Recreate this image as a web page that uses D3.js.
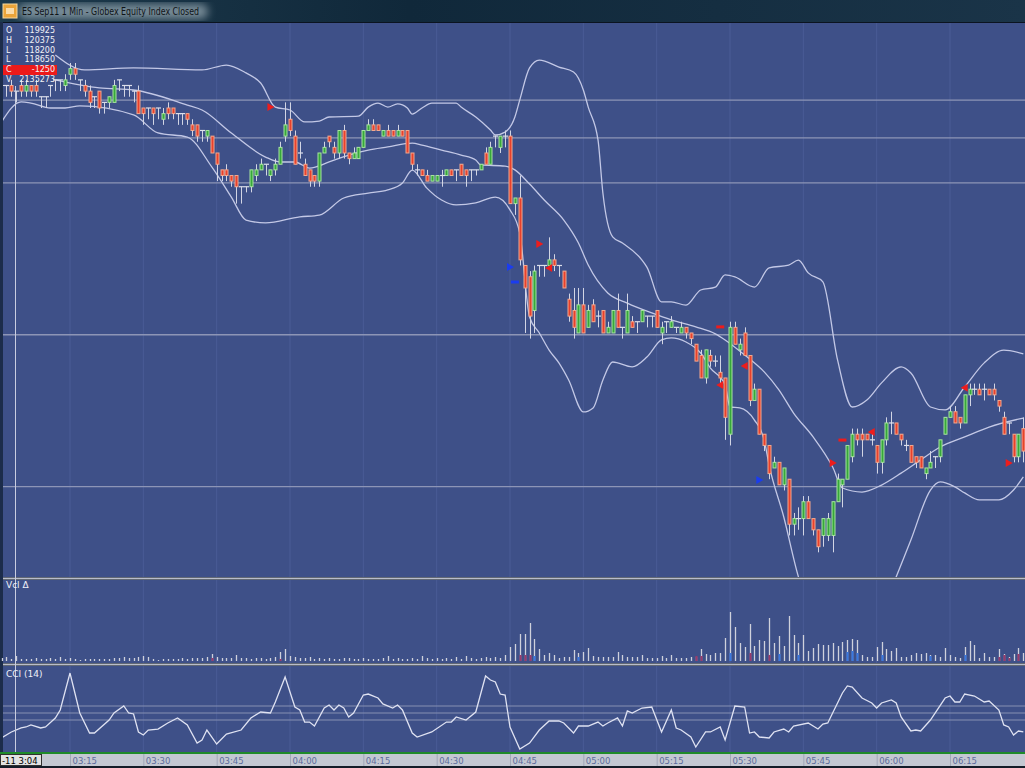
<!DOCTYPE html>
<html><head><meta charset="utf-8">
<script src="https://cdn.jsdelivr.net/npm/d3@7"></script>
<style>
html,body{margin:0;padding:0;background:#000;overflow:hidden}
svg{display:block}
text{font-family:"DejaVu Sans",Verdana,sans-serif}
</style></head><body>
<svg id="c" width="1025" height="768"></svg>
<script>
// ---------- DATA ----------
const titleText = "ES Sep11 1 Min - Globex Equity Index Closed";
const infoLabels = ["O","H","L","L","C","V"];
const infoValues = ["119925","120375","118200","118650","-1250","2135273"];
const cursorLabel = "-11 3:04";
const cursorBar = 3;
const panelLabels = ["Vcl \u0394","CCI (14)"];

const openP = [1202.75,1202.75,1202.75,1202.5,1202.75,1202.5,1202.75,1202.75,1202.25,1202.25,
1202.75,1203,1203,1202.75,1203.25,1203.5,1203,1202.75,1202.5,1202.25,
1202.5,1202,1202,1202,1203,1202.75,1202.75,1202.5,1202.5,1201.75,
1201.75,1201.75,1201.75,1201.25,1201.75,1201.75,1201.5,1201.5,1201.5,1201,
1201,1200.75,1200.5,1200.5,1199.75,1199,1199,1198.75,1198.75,1198.25,
1198.25,1198.25,1198.75,1199,1199.25,1198.75,1199,1199.25,1200.5,1201.25,
1200.5,1199.75,1199.25,1199,1198.75,1198.5,1199.75,1200.5,1200,1199.75,
1200.75,1199.75,1199.5,1199.5,1200,1200.75,1201,1201,1200.5,1200.75,
1200.75,1200.5,1200.75,1200.75,1199.75,1199,1199,1198.75,1198.5,1198.5,
1198.75,1198.75,1199,1199,1199.25,1199,1199,1199,1199,1199.75,
1199.25,1200.5,1200,1200.5,1200.5,1197.5,1197.75,1194.75,1194.25,1192.75,
1194.75,1194.75,1194.75,1195,1194.75,1194.5,1193.25,1192.75,1191.75,1193,
1192,1193,1192.5,1192.75,1191.75,1191.75,1192.75,1192,1191.75,1192.25,
1192.25,1192.25,1192.5,1192.5,1192.75,1191.75,1192.25,1192,1192,1191.75,
1192,1191.75,1191.25,1190.75,1189.75,1190.75,1190.5,1190,1189.75,1187.25,
1192,1191,1191.75,1190.75,1188.75,1189.25,1187.25,1186.75,1185.75,1186,
1185,1185.25,1183.25,1183.5,1183.5,1184.25,1183.5,1183,1182.75,1182.75,
1182.75,1184.25,1185,1185.25,1186.25,1187.25,1187.25,1187.25,1187,1186.75,
1186,1187,1187.75,1187.75,1187.25,1186.75,1186.75,1186.25,1186.25,1185.5,
1185.75,1186.25,1186.25,1187.25,1188,1188.25,1188,1187.75,1189,1189.25,
1189.25,1189.25,1189.25,1189.25,1188.75,1188,1187.75,1187.25,1186.25,1187.5];
const highP = [1202.75,1202.75,1203,1202.5,1203,1203,1202.75,1203,1202.25,1202.25,
1202.75,1203,1203,1203.25,1203.75,1203.75,1203,1203,1202.75,1202.25,
1202.5,1202,1202.25,1203,1203,1202.75,1202.75,1202.5,1202.75,1201.75,
1201.75,1201.75,1201.75,1201.75,1202,1201.75,1201.5,1201.5,1201.5,1201.25,
1201,1200.75,1200.75,1200.5,1199.75,1199,1199.25,1198.75,1198.75,1198.25,
1198.25,1199,1199.25,1199.5,1199.25,1199,1199.5,1200.25,1202,1202,
1200.75,1200.25,1199.5,1199,1198.75,1199.75,1200.25,1200.5,1200.25,1200.75,
1201,1199.75,1200,1200,1200.75,1201.25,1201.25,1201,1200.75,1201,
1200.75,1201,1200.75,1200.75,1199.75,1199.25,1199,1199,1198.75,1198.75,
1199,1199,1199,1199,1199.25,1199,1199,1199,1199.25,1200,
1200.25,1200.5,1200.5,1200.75,1200.75,1197.75,1198.75,1194.75,1194.5,1194.75,
1194.75,1194.75,1196,1195.25,1194.75,1194.5,1193.5,1193.75,1193.75,1193.75,
1193,1193.25,1192.75,1192.75,1192.25,1192.75,1193.5,1192,1193.5,1192.5,
1192.25,1192.75,1192.5,1192.5,1192.75,1192.25,1192.25,1192.5,1192,1192.25,
1192,1191.75,1191.25,1191,1191,1191,1190.75,1190.75,1189.75,1192.25,
1192.25,1191.5,1192,1190.75,1189.5,1189.25,1187.25,1186.75,1186.25,1186,
1185.75,1185.25,1183.75,1184,1184.5,1184.5,1183.5,1183,1183.5,1183.75,
1184.25,1185.5,1185.25,1186.75,1187.5,1187.5,1187.5,1187.25,1187.25,1186.75,
1187,1188,1188.25,1187.75,1187.25,1187,1186.75,1186.25,1186.25,1185.75,
1186.5,1186.25,1187,1188,1188.5,1188.5,1188,1189,1189.5,1189.5,
1189.5,1189.5,1189.25,1189.5,1188.75,1188.25,1187.75,1187.25,1187.25,1188];
const lowP = [1202.25,1202.25,1202.25,1202,1202.25,1202.25,1202.25,1202.25,1201.75,1201.75,
1202.25,1202.5,1202.5,1202.5,1203,1203,1202.5,1202.25,1201.75,1201.75,
1201.5,1201.5,1201.75,1202,1202.5,1202.25,1202.25,1202,1201.5,1201,
1201.25,1201,1201.25,1201,1201.25,1201.25,1201,1201,1201,1200.5,
1200.25,1200.25,1200.25,1199.75,1198.5,1198.5,1198.5,1198.25,1197.5,1197.5,
1198,1198,1198.5,1199,1198.75,1198.5,1198.75,1199.25,1200.25,1200.5,
1199.25,1199.5,1198.75,1198.25,1198.25,1198.25,1199.75,1200,1199.5,1199.5,
1199.5,1199.25,1199.5,1199.5,1200,1200.75,1200.75,1200.75,1200.5,1200.5,
1200.5,1200.5,1200.5,1199.75,1199,1198.75,1198.75,1198.5,1198.5,1198.5,
1198.25,1198.75,1198.75,1198.5,1198.75,1198.25,1198.5,1198.75,1199,1199.25,
1199.25,1200,1199.75,1200,1197.5,1197,1194.75,1191.75,1191.5,1191.75,
1194.25,1194.25,1194.75,1194.5,1194.25,1193.75,1192.25,1191.5,1191.75,1191.75,
1192,1192.25,1192,1191.75,1191.75,1191.75,1192,1191.5,1191.75,1192,
1191.75,1192.25,1192,1192,1192,1191.25,1191.75,1192,1191.75,1191.75,
1191.5,1191.25,1190.5,1189.75,1189.5,1190.25,1190.25,1189.5,1187,1186.75,
1191.25,1190.75,1190.75,1188.5,1188.75,1187.25,1186.5,1185.25,1185.75,1185,
1184.75,1182.75,1182.75,1183,1182.75,1183.5,1182.75,1182,1182.25,1182.5,
1182,1184.25,1184,1185.25,1186,1186.75,1186.25,1187,1186.75,1185.5,
1185.5,1186.75,1187.25,1187.25,1186.75,1186.5,1186,1185.75,1185.75,1185.25,
1185.75,1185.75,1186,1187.25,1188,1187.75,1187.5,1187.75,1188.5,1189,
1189,1188.75,1189,1188.75,1188.25,1187.25,1187.25,1186,1186,1186];
const closeP = [1202.75,1202.75,1202.5,1202.5,1202.5,1202.75,1202.5,1202.5,1202.25,1202.25,
1202.75,1203,1203,1203,1203.5,1203.25,1203,1202.5,1202,1202.25,
1201.75,1202,1202.25,1202.75,1203,1202.75,1202.75,1202.5,1201.5,1201.5,
1201.75,1201.5,1201.75,1201.5,1201.5,1201.5,1201.5,1201.5,1201.25,1200.75,
1200.5,1200.75,1200.75,1199.75,1199.25,1198.75,1198.75,1198.5,1198.25,1198.25,
1198.25,1199,1199,1199.25,1199.25,1199,1199.25,1200,1201,1200.75,
1199.25,1199.75,1198.75,1198.5,1198.5,1199.75,1200,1200.25,1199.75,1200.75,
1199.75,1199.5,1199.75,1200,1200.75,1201,1200.75,1200.75,1200.75,1200.5,
1200.5,1200.75,1200.5,1199.75,1199.25,1199,1198.75,1198.5,1198.75,1198.75,
1198.75,1199,1198.75,1199,1198.75,1198.75,1199,1199,1199.25,1199.25,
1200,1200.5,1200.5,1200.5,1197.5,1197.75,1195,1193.75,1192.5,1194.5,
1194.75,1194.75,1195,1194.75,1194.75,1193.75,1192.5,1192,1193,1191.75,
1192.75,1192.25,1192.5,1191.75,1192,1192.75,1192,1192,1192.75,1192,
1192.25,1192.75,1192.5,1192.5,1192,1192,1192.25,1192.25,1192,1192,
1191.75,1191.5,1190.5,1189.75,1191,1190.5,1190.5,1189.75,1188,1192,
1191.25,1191.25,1190.75,1188.75,1189.25,1187.25,1186.75,1185.5,1186,1185,
1185.75,1183.25,1183.5,1183.5,1184.25,1183.5,1183,1182.25,1183.5,1183.5,
1184.25,1185.25,1185.25,1186.75,1187.25,1187,1187,1187,1187,1186,
1187,1187.75,1187.75,1187.25,1187,1186.75,1186,1186,1185.75,1185.75,
1186,1186.25,1187,1188,1188.25,1187.75,1187.75,1189,1189.25,1189.25,
1189,1189.25,1189,1189,1188.5,1187.25,1187.75,1186.25,1187.25,1186.5];

const volume = [900,1200,600,1500,600,600,600,900,600,600,
900,600,1200,600,900,600,300,600,600,600,
600,600,600,900,900,1200,900,900,1200,1500,
1200,600,300,600,600,600,600,900,600,900,
900,900,1200,2100,1200,900,900,900,1800,900,
900,600,900,900,600,900,1200,2700,3600,1500,
1200,900,900,1200,600,900,600,900,600,600,
900,900,600,600,900,600,600,600,900,1500,
600,900,600,600,900,600,1500,900,600,900,
600,900,600,1200,600,1500,900,600,900,1200,
900,1200,900,1800,4200,5100,8100,8100,11400,6600,
3600,1800,2400,1800,900,1200,1200,3300,2400,2700,
3900,1500,1200,1200,1200,1200,2700,1800,1200,1200,
1200,1800,900,900,900,1500,900,1800,900,900,
900,1200,1200,3600,2100,1800,2400,2400,6900,14700,
10200,5400,4200,11100,4500,6300,6000,12900,5400,7500,
4500,13500,7800,5400,7800,3000,3900,5100,4800,4800,
5400,4500,5700,6300,6600,6300,1800,1200,1200,4200,
5700,3600,3000,3900,1200,1200,1800,2400,2100,2400,
1800,1800,1200,3900,1800,1200,900,4200,6000,4800,
900,2400,1200,1200,3600,2100,1200,2100,3900,2400];
const deltaIdx = [43,57,106,107,108,109,118,142,143,149,153,157,159,163,173,174,175,180,190,197,204,205,206,208];
const deltaVal = [-900,-600,-1800,-1800,-1800,1500,1200,-1500,-1500,2400,-2400,-1800,2100,1800,2700,3000,2400,1800,1500,1800,-1200,-1800,-900,-2100];

const upperBand = [[11,1204.11],[17,1203.44],[27,1203.53],[41,1203.44],[46,1203.66],[50,1203.31],[53,1202.86],[56,1201.79],[59,1201.66],[62,1201.13],[65,1201.17],[67,1201.35],[73,1201.39],[75,1201.79],[77,1201.97],[79,1201.79],[81,1201.93],[83,1201.75],[84,1201.48],[86,1201.75],[88,1201.97],[93,1201.97],[94,1201.79],[97,1201.35],[100,1200.77],[101,1200.55],[103,1200.68],[105,1201.35],[106,1202.11],[108,1203.53],[110,1203.88],[114,1203.57],[117,1203.35],[119,1202.55],[120,1201.79],[122,1200.33],[123,1197.97],[125,1196.02],[127,1195.75],[131,1194.99],[132,1194.68],[135,1193.13],[137,1193.13],[140,1192.99],[143,1193.66],[146,1193.79],[148,1194.33],[150,1194.24],[154,1193.79],[157,1194.64],[161,1194.77],[163,1194.99],[165,1194.42],[168,1194.02],[171,1190.55],[174,1188.46],[177,1188.77],[180,1189.53],[184,1190.24],[186,1189.97],[190,1188.46],[193,1188.33],[197,1189.35],[201,1190.42],[205,1190.99],[209,1190.82]];
const middleBand = [[11,1203.0],[20,1202.64],[27,1202.55],[38,1201.88],[41,1201.66],[47,1200.64],[54,1199.57],[57,1199.35],[60,1199.35],[63,1199.08],[67,1199.35],[71,1199.66],[75,1199.88],[79,1200.02],[84,1200.19],[86,1200.1],[90,1199.88],[94,1199.66],[97,1199.44],[98,1199.22],[103,1199.17],[105,1199.0],[108,1198.37],[111,1197.66],[115,1196.77],[118,1195.75],[120,1194.77],[124,1193.53],[128,1193.08],[133,1192.64],[137,1192.33],[142,1192.02],[146,1191.71],[148,1191.44],[152,1190.77],[156,1190.02],[159,1189.22],[162,1188.19],[166,1187.13],[170,1185.79],[172,1184.86],[176,1184.68],[180,1184.99],[184,1185.52],[188,1186.11],[192,1186.68],[197,1187.13],[202,1187.57],[209,1187.97]];
const lowerBand = [[0,1201.13],[4,1202.02],[6,1201.97],[10,1201.75],[13,1201.75],[16,1201.84],[27,1201.44],[32,1200.64],[38,1200.46],[43,1199.13],[47,1197.79],[50,1196.77],[54,1196.64],[61,1196.91],[65,1196.99],[70,1197.75],[75,1197.97],[79,1198.11],[82,1198.42],[84,1198.99],[87,1198.19],[90,1197.66],[93,1197.44],[97,1197.53],[101,1197.79],[104,1197.22],[106,1196.19],[108,1192.46],[110,1191.75],[112,1190.99],[114,1190.42],[116,1189.66],[119,1188.24],[121,1188.42],[123,1189.66],[125,1190.46],[129,1190.24],[132,1190.68],[135,1191.44],[137,1191.53],[140,1191.35],[143,1190.86],[145,1190.19],[148,1189.44],[149,1188.46],[151,1188.42],[154,1187.88],[156,1186.99],[157,1185.88],[160,1183.57],[163,1180.91],[167,1178.77],[174,1178.11],[180,1179.22],[183,1180.91],[186,1182.55],[190,1184.77],[192,1185.13],[195,1184.91],[197,1184.64],[200,1184.33],[204,1184.33],[207,1184.77],[209,1185.35]];
const refLevels = [1202.1,1200.42,1198.42,1191.67,1184.92];

const cciIdx = [0,2,4,5,6,8,9,11,12,14,15,16,18,19,22,23,25,26,27,28,29,30,32,34,36,38,40,41,42,44,46,49,51,53,55,56,58,60,61,62,63,64,66,67,68,69,70,71,72,74,75,77,78,80,81,82,84,85,88,91,92,93,95,97,99,100,101,102,103,104,106,108,110,112,114,115,117,118,120,122,123,124,126,127,128,129,131,133,135,137,138,139,141,142,144,145,147,148,150,152,153,154,155,157,158,160,161,162,165,167,168,169,171,172,173,174,176,178,179,180,182,183,184,186,187,188,190,193,194,195,196,197,199,201,202,204,205,206,207,208,209];
const cciVal = [-357,-271,-214,-200,-171,-214,-200,-71,43,571,286,0,-286,-286,-100,0,100,0,-14,-271,-314,-243,-229,-143,-71,-171,-429,-386,-243,-443,-300,-243,-71,14,0,157,514,86,43,-129,-129,-186,71,114,43,114,71,-57,0,257,271,214,129,71,114,43,-286,-343,-271,-129,-129,-57,-100,14,529,471,443,271,257,-200,-514,-429,-243,-114,-114,-143,-286,-186,-186,-129,-186,-143,-71,-186,29,0,71,86,-271,43,-214,-243,-343,-486,-271,-271,-200,-386,100,86,-286,-271,-343,-357,-271,-229,-271,-186,-143,-229,-157,-143,143,286,386,371,214,143,71,143,186,143,-57,-257,-243,-257,-100,214,243,157,157,271,243,157,171,43,-171,-200,-314,-257,-271];
const cciLevels = [100,0,-100];

// signal markers: bar index, price, kind
const markIdx = [55,104,105,110,112,147,147,152,155,170,172,178,197,206];
const markPrice = [1201.79,1194.68,1194.02,1195.71,1194.64,1192.02,1189.44,1190.28,1185.22,1185.97,1186.99,1187.35,1189.31,1185.97];
const markKind = ["rR","bR","bD","rR","rL","rD","rL","rL","bR","rR","rD","rL","rL","rR"];

// ---------- CHART ----------
const W = 1025, H = 768;
const svg = d3.select("#c");
const day = (h,m) => new Date(2011,8,1,h,m);
const barStart = day(3,1);
const barTime = i => d3.timeMinute.offset(barStart, i);

const x = d3.scaleTime().domain([day(3,15), day(6,15)]).range([70, 950]);
const y = d3.scaleLinear().domain([1181.97, 1203.75]).range([553, 63]);
const yv = d3.scaleLinear().domain([0, 24600]).range([661, 579]);
const yc = d3.scaleLinear().domain([-100, 100]).range([720, 706]);

const P = {top:23, mainBot:577, volTop:580, volBot:663, cciTop:666, cciBot:752};
const BG = "#3e5088";

const defs = svg.append("defs");
const tg = defs.append("linearGradient").attr("id","tg").attr("x1",0).attr("x2",1).attr("y1",0).attr("y2",0);
tg.append("stop").attr("offset","0%").attr("stop-color","#1d3a4c");
tg.append("stop").attr("offset","40%").attr("stop-color","#10283a");
tg.append("stop").attr("offset","100%").attr("stop-color","#1a3448");
defs.append("filter").attr("id","blur").append("feGaussianBlur").attr("stdDeviation",4);
defs.append("clipPath").attr("id","cm").append("rect").attr("x",3).attr("y",P.top).attr("width",W-3).attr("height",P.mainBot-P.top);
defs.append("clipPath").attr("id","cc").append("rect").attr("x",3).attr("y",P.cciTop).attr("width",W-3).attr("height",P.cciBot-P.cciTop);

// window frame & title
svg.append("rect").attr("width",W).attr("height",H).attr("fill","#0b1420");
svg.append("rect").attr("width",W).attr("height",22).attr("fill","url(#tg)");
svg.append("rect").attr("x",18).attr("y",4).attr("width",190).attr("height",15).attr("rx",7)
  .attr("fill","#c8d6dc").attr("opacity",0.55).attr("filter","url(#blur)");
svg.append("rect").attr("x",3).attr("y",4).attr("width",14).attr("height",14).attr("fill","#e9a43a").attr("stroke","#f6d9a0");
svg.append("rect").attr("x",6).attr("y",8).attr("width",8).attr("height",6).attr("fill","#fff3d8").attr("opacity",0.7);
svg.append("text").attr("x",22).attr("y",15).attr("font-size",10.5).attr("fill","#101418")
  .attr("textLength",177).attr("lengthAdjust","spacingAndGlyphs").attr("font-family","Noto Sans, DejaVu Sans").text(titleText);

// panels
[[P.top,P.mainBot],[P.volTop,P.volBot],[P.cciTop,P.cciBot]].forEach(([a,b])=>{
  svg.append("rect").attr("x",3).attr("y",a).attr("width",W-3).attr("height",b-a).attr("fill",BG);
});
svg.append("rect").attr("x",0).attr("y",22).attr("width",3).attr("height",732).attr("fill","#1c2c4a");
[P.mainBot+1.5, P.volBot+1.5].forEach(v=>svg.append("line").attr("x1",3).attr("x2",W).attr("y1",v).attr("y2",v)
  .attr("stroke","#b9bdca").attr("stroke-width",2.2));

// vertical grid
const tickVals = d3.timeMinute.every(15).range(day(3,15), day(6,16));
[[P.top,P.mainBot],[P.volTop,P.volBot],[P.cciTop,P.cciBot]].forEach(([a,b])=>{
  svg.append("g").selectAll("line").data(tickVals).join("line")
    .attr("x1",d=>x(d)).attr("x2",d=>x(d)).attr("y1",a).attr("y2",b)
    .attr("stroke","#4a5c96").attr("stroke-width",1);
});

// reference levels main
svg.append("g").selectAll("line").data(refLevels).join("line")
  .attr("x1",3).attr("x2",W).attr("y1",d=>y(d)).attr("y2",d=>y(d))
  .attr("stroke","#8d95b6").attr("stroke-width",1.4);
// cci levels
svg.append("g").selectAll("line").data(cciLevels).join("line")
  .attr("x1",3).attr("x2",W).attr("y1",d=>yc(d)).attr("y2",d=>yc(d))
  .attr("stroke","#8690b2").attr("stroke-width",1);

// bands
const bandLine = d3.line().x(d=>x(barTime(d[0]))).y(d=>y(d[1])).curve(d3.curveMonotoneX);
const gm = svg.append("g").attr("clip-path","url(#cm)");
[upperBand, middleBand, lowerBand].forEach(b=>{
  gm.append("path").attr("d",bandLine(b)).attr("fill","none").attr("stroke","#c3c8e6").attr("stroke-width",1.3);
});

// candles
const bars = d3.range(openP.length).map(i=>({i,t:barTime(i),o:openP[i],h:highP[i],l:lowP[i],c:closeP[i]}));
const gc = gm.append("g");
gc.selectAll("line.w").data(bars).join("line").attr("class","w")
  .attr("x1",d=>Math.round(x(d.t))+0.5).attr("x2",d=>Math.round(x(d.t))+0.5)
  .attr("y1",d=>y(d.h)).attr("y2",d=>y(d.l)).attr("stroke","#d2d5e4").attr("stroke-width",1);
gc.selectAll("rect.b").data(bars.filter(d=>d.o!==d.c)).join("rect").attr("class","b")
  .attr("x",d=>Math.round(x(d.t))-1).attr("width",3)
  .attr("y",d=>y(Math.max(d.o,d.c))).attr("height",d=>Math.abs(y(d.o)-y(d.c)))
  .attr("fill",d=>d.c>d.o?"#36a83a":"#e8412c")
  .attr("stroke",d=>d.c>d.o?"#a8e4a0":"#f4a88e").attr("stroke-width",1);
gc.selectAll("line.d").data(bars.filter(d=>d.o===d.c)).join("line").attr("class","d")
  .attr("x1",d=>Math.round(x(d.t))-2).attr("x2",d=>Math.round(x(d.t))+3)
  .attr("y1",d=>y(d.o)).attr("y2",d=>y(d.o)).attr("stroke","#dcdfeb").attr("stroke-width",1.2);

// markers
const marks = markIdx.map((m,k)=>({x:x(barTime(m)), y:y(markPrice[k]), k:markKind[k]}));
gm.append("g").selectAll("path").data(marks).join("path")
  .attr("d",d=>{
    if (d.k[1]==="R") return `M${d.x-3},${d.y-4}L${d.x+4},${d.y}L${d.x-3},${d.y+4}Z`;
    if (d.k[1]==="L") return `M${d.x+3},${d.y-4}L${d.x-4},${d.y}L${d.x+3},${d.y+4}Z`;
    return `M${d.x-4},${d.y-1.5}h8v3h-8Z`;
  })
  .attr("fill",d=>d.k[0]==="r"?"#ee1c1c":"#1a3cf0");

// volume
const gv = svg.append("g");
gv.selectAll("line").data(volume).join("line")
  .attr("x1",(v,i)=>Math.round(x(barTime(i)))+0.5).attr("x2",(v,i)=>Math.round(x(barTime(i)))+0.5)
  .attr("y1",yv(0)).attr("y2",v=>yv(v)).attr("stroke","#cfd1dc").attr("stroke-width",1.3);
gv.append("g").selectAll("line").data(deltaIdx).join("line")
  .attr("x1",i=>Math.round(x(barTime(i)))+0.5).attr("x2",i=>Math.round(x(barTime(i)))+0.5)
  .attr("y1",yv(0)).attr("y2",(i,k)=>yv(Math.abs(deltaVal[k])))
  .attr("stroke",(i,k)=>deltaVal[k]<0?"#9a3a6a":"#3a78e0").attr("stroke-width",2);

// CCI
const cciLine = d3.line().x((d,k)=>x(barTime(cciIdx[k]))).y(d=>yc(d));
svg.append("path").attr("clip-path","url(#cc)").attr("d",cciLine(cciVal))
  .attr("fill","none").attr("stroke","#dfe2f2").attr("stroke-width",1.3);

// crosshair (starts below the info block)
const cx = Math.round(x(barTime(cursorBar)))-0.5;
svg.append("line").attr("x1",cx).attr("x2",cx).attr("y1",86).attr("y2",P.cciBot)
  .attr("stroke","#c9cde0").attr("stroke-width",1);

// info box
svg.append("rect").attr("x",3).attr("y",65).attr("width",54).attr("height",10).attr("fill","#ec1a1a");
infoLabels.forEach((l,k)=>{
  const yy = 33 + k*9.8;
  svg.append("text").attr("x",6).attr("y",yy).attr("font-size",8).attr("fill","#f2f2f6").text(l);
  svg.append("text").attr("x",55).attr("y",yy).attr("font-size",8).attr("fill","#f2f2f6").attr("text-anchor","end").text(infoValues[k]);
});
svg.append("text").attr("x",6).attr("y",588).attr("font-size",9).attr("fill","#eef0f8").text(panelLabels[0]);
svg.append("text").attr("x",6).attr("y",677).attr("font-size",9).attr("fill","#eef0f8").text(panelLabels[1]);

// time axis
svg.append("rect").attr("x",0).attr("y",753).attr("width",W).attr("height",14).attr("fill","#c4c8d2");
svg.append("line").attr("x1",0).attr("x2",W).attr("y1",753).attr("y2",753).attr("stroke","#1f8a2a").attr("stroke-width",2);
svg.append("rect").attr("x",0).attr("y",766).attr("width",W).attr("height",2).attr("fill","#141c28");
const axis = d3.axisBottom(x).tickValues(tickVals).tickFormat(d3.timeFormat("%H:%M")).tickSize(12).tickPadding(0);
const ga = svg.append("g").attr("transform","translate(0,754)").call(axis);
ga.select(".domain").remove();
ga.selectAll(".tick line").attr("stroke","#a2a8b8");
ga.selectAll(".tick text").attr("text-anchor","start").attr("x",2).attr("y",0).attr("dy","9.5")
  .attr("font-size",8.5).attr("fill","#5c6c9c").attr("font-family","DejaVu Sans");
svg.append("rect").attr("x",0.5).attr("y",754.5).attr("width",41).attr("height",11).attr("fill","#e2e2e2").attr("stroke","#303030");
svg.append("text").attr("x",2).attr("y",763.5).attr("font-size",8.5).attr("fill","#000").text(cursorLabel);
</script>
</body></html>
